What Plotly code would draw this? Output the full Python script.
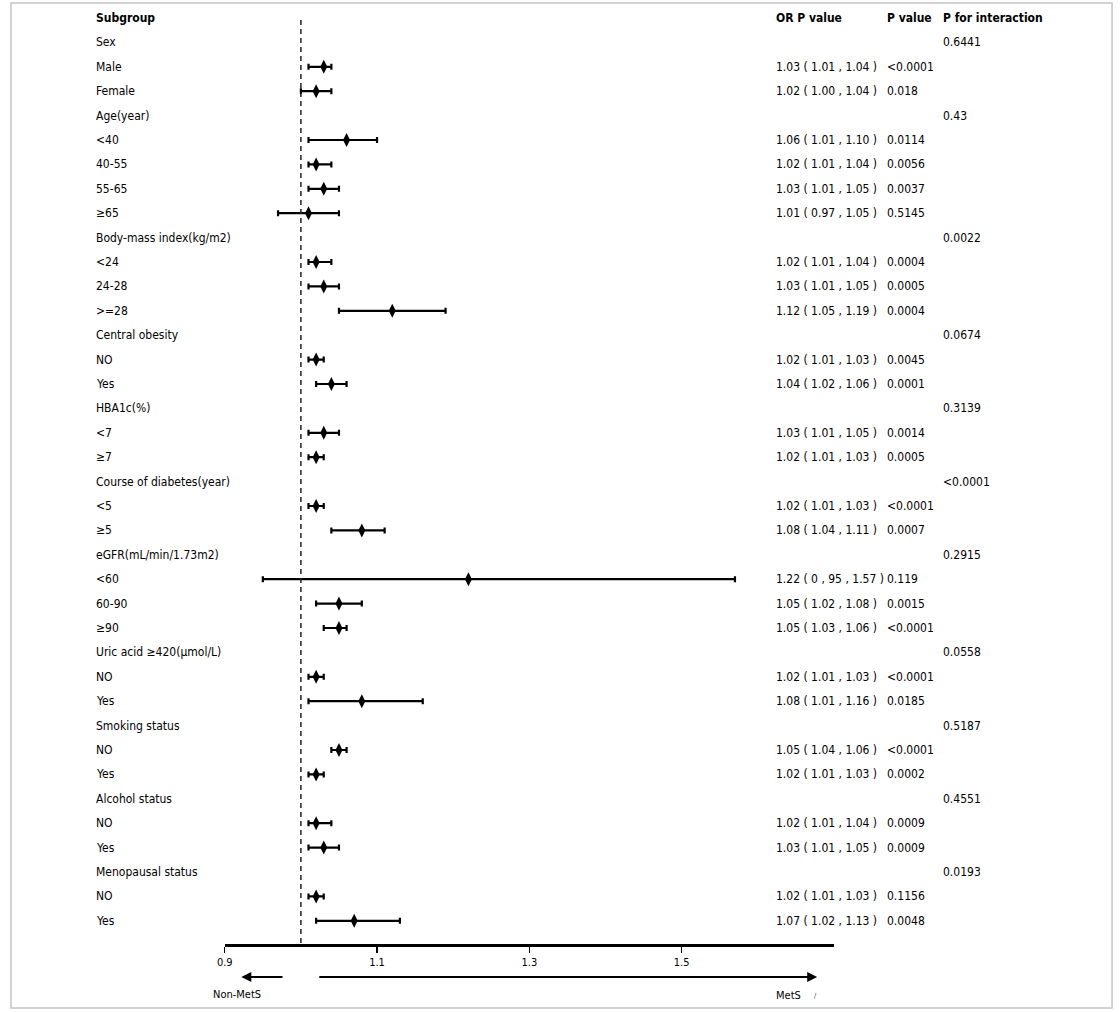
import plotly.graph_objects as go

# ---------------- data ----------------
subgroups = ["Sex", "Male", "Female", "Age(year)", "<40", "40-55", "55-65", "≥65",
             "Body-mass index(kg/m2)", "<24", "24-28", ">=28", "Central obesity", "NO", "Yes",
             "HBA1c(%)", "<7", "≥7", "Course of diabetes(year)", "<5", "≥5",
             "eGFR(mL/min/1.73m2)", "<60", "60-90", "≥90", "Uric acid ≥420(μmol/L)", "NO", "Yes",
             "Smoking status", "NO", "Yes", "Alcohol status", "NO", "Yes",
             "Menopausal status", "NO", "Yes"]

or_est = [None, 1.03, 1.02, None, 1.06, 1.02, 1.03, 1.01, None, 1.02, 1.03, 1.12, None, 1.02, 1.04,
          None, 1.03, 1.02, None, 1.02, 1.08, None, 1.22, 1.05, 1.05, None, 1.02, 1.08,
          None, 1.05, 1.02, None, 1.02, 1.03, None, 1.02, 1.07]
or_lo = [None, 1.01, 1.00, None, 1.01, 1.01, 1.01, 0.97, None, 1.01, 1.01, 1.05, None, 1.01, 1.02,
         None, 1.01, 1.01, None, 1.01, 1.04, None, 0.95, 1.02, 1.03, None, 1.01, 1.01,
         None, 1.04, 1.01, None, 1.01, 1.01, None, 1.01, 1.02]
or_hi = [None, 1.04, 1.04, None, 1.10, 1.04, 1.05, 1.05, None, 1.04, 1.05, 1.19, None, 1.03, 1.06,
         None, 1.05, 1.03, None, 1.03, 1.11, None, 1.57, 1.08, 1.06, None, 1.03, 1.16,
         None, 1.06, 1.03, None, 1.04, 1.05, None, 1.03, 1.13]
or_text = ["", "1.03 ( 1.01 , 1.04 )", "1.02 ( 1.00 , 1.04 )", "", "1.06 ( 1.01 , 1.10 )",
           "1.02 ( 1.01 , 1.04 )", "1.03 ( 1.01 , 1.05 )", "1.01 ( 0.97 , 1.05 )", "",
           "1.02 ( 1.01 , 1.04 )", "1.03 ( 1.01 , 1.05 )", "1.12 ( 1.05 , 1.19 )", "",
           "1.02 ( 1.01 , 1.03 )", "1.04 ( 1.02 , 1.06 )", "", "1.03 ( 1.01 , 1.05 )",
           "1.02 ( 1.01 , 1.03 )", "", "1.02 ( 1.01 , 1.03 )", "1.08 ( 1.04 , 1.11 )", "",
           "1.22 ( 0 , 95 , 1.57 )", "1.05 ( 1.02 , 1.08 )", "1.05 ( 1.03 , 1.06 )", "",
           "1.02 ( 1.01 , 1.03 )", "1.08 ( 1.01 , 1.16 )", "", "1.05 ( 1.04 , 1.06 )",
           "1.02 ( 1.01 , 1.03 )", "", "1.02 ( 1.01 , 1.04 )", "1.03 ( 1.01 , 1.05 )", "",
           "1.02 ( 1.01 , 1.03 )", "1.07 ( 1.02 , 1.13 )"]
p_value = ["", "<0.0001", "0.018", "", "0.0114", "0.0056", "0.0037", "0.5145", "",
           "0.0004", "0.0005", "0.0004", "", "0.0045", "0.0001", "", "0.0014", "0.0005", "",
           "<0.0001", "0.0007", "", "0.119", "0.0015", "<0.0001", "", "<0.0001", "0.0185", "",
           "<0.0001", "0.0002", "", "0.0009", "0.0009", "", "0.1156", "0.0048"]
p_interaction = ["0.6441", "", "", "0.43", "", "", "", "", "0.0022", "", "", "", "0.0674", "", "",
                 "0.3139", "", "", "<0.0001", "", "", "0.2915", "", "", "", "0.0558", "", "",
                 "0.5187", "", "", "0.4551", "", "", "0.0193", "", ""]
headers = ["Subgroup", "OR P value", "P value", "P for interaction"]
tick_vals = [0.9, 1.1, 1.3, 1.5]
tick_labels = ["0.9", "1.1", "1.3", "1.5"]
ref_value = 1.0
left_label, right_label = "Non-MetS", "MetS"

# ---------------- layout helpers ----------------
W, H = 1120, 1012
ROW0, ROWH = 18, 24.4            # pixel y of header row, row spacing
X0PIX, PX_PER_UNIT = 218.3, 767  # pixel of 0.9, pixels per OR unit
AX_END = 832
AX_Y = 945
FONT = "DejaVu Sans Condensed, DejaVu Sans, sans-serif"
TXT = 12


def row_of(py):
    return (py - ROW0) / ROWH


def val_of(px):
    return 0.9 + (px - X0PIX) / PX_PER_UNIT


rows = [i + 1 for i in range(len(subgroups))]
idx = [i for i, v in enumerate(or_est) if v is not None]
xs = [or_est[i] for i in idx]
ys = [rows[i] for i in idx]
err_plus = [or_hi[i] - or_est[i] for i in idx]
err_minus = [or_est[i] - or_lo[i] for i in idx]

fig = go.Figure()
fig.add_trace(go.Scatter(
    x=xs, y=ys, mode="markers",
    marker=dict(symbol="diamond-tall", size=10, color="black"),
    error_x=dict(type="data", symmetric=False, array=err_plus, arrayminus=err_minus,
                 color="black", thickness=2.2, width=3),
    showlegend=False, hoverinfo="skip",
))

ann = []
col_x = [87, 772, 883, 940]
for cx, h in zip(col_x, headers):
    ann.append(dict(x=cx / W, xref="paper", y=0, yref="y", text=f"<b>{h}</b>",
                    xanchor="left", yanchor="middle", showarrow=False,
                    font=dict(family=FONT, size=TXT, color="black")))
for r, lab, ot, pv, pi in zip(rows, subgroups, or_text, p_value, p_interaction):
    for cx, t in zip(col_x, [lab, ot, pv, pi]):
        if t:
            ann.append(dict(x=cx / W, xref="paper", y=r, yref="y", text=t,
                            xanchor="left", yanchor="middle", showarrow=False,
                            font=dict(family=FONT, size=TXT, color="black")))

# direction arrows
arrow_row = row_of(977)
ann.append(dict(x=val_of(235), y=arrow_row, xref="x", yref="y",
                ax=val_of(278), ay=arrow_row, axref="x", ayref="y", text="",
                showarrow=True, arrowhead=2, arrowsize=1, arrowwidth=2, arrowcolor="black"))
ann.append(dict(x=val_of(815), y=arrow_row, xref="x", yref="y",
                ax=val_of(312), ay=arrow_row, axref="x", ayref="y", text="",
                showarrow=True, arrowhead=2, arrowsize=1, arrowwidth=2, arrowcolor="black"))
ann.append(dict(x=231 / W, xref="paper", y=row_of(994), yref="y", text=left_label,
                xanchor="center", yanchor="middle", showarrow=False,
                font=dict(family=FONT, size=11, color="black")))
ann.append(dict(x=786 / W, xref="paper", y=row_of(995), yref="y", text=right_label,
                xanchor="center", yanchor="middle", showarrow=False,
                font=dict(family=FONT, size=11, color="black")))
ann.append(dict(x=813 / W, xref="paper", y=row_of(996), yref="y", text="/",
                xanchor="center", yanchor="middle", showarrow=False,
                font=dict(family=FONT, size=7, color="#333")))

shapes = [
    dict(type="line", xref="x", yref="y", x0=ref_value, x1=ref_value,
         y0=row_of(20), y1=row_of(AX_Y), line=dict(color="#222", width=1.5, dash="5px,4px")),
    dict(type="rect", xref="paper", yref="paper", x0=3 / W, x1=1112 / W,
         y0=1 - 1008 / H, y1=1 - 3 / H, line=dict(color="#c4c4c4", width=1.5)),
]

fig.update_layout(
    width=W, height=H, margin=dict(l=0, r=0, t=0, b=0),
    paper_bgcolor="white", plot_bgcolor="white",
    annotations=ann, shapes=shapes, showlegend=False,
    xaxis=dict(domain=[X0PIX / W, AX_END / W], range=[0.9, val_of(AX_END)],
               anchor="free", position=1 - AX_Y / H,
               showline=True, linewidth=2.8, linecolor="black",
               ticks="outside", ticklen=6, tickwidth=1.5, tickcolor="black",
               tickvals=tick_vals, ticktext=tick_labels,
               tickfont=dict(family=FONT, size=11, color="black"),
               showgrid=False, zeroline=False, fixedrange=True),
    yaxis=dict(domain=[0, 1], range=[row_of(H), row_of(0)], visible=False,
               showgrid=False, zeroline=False, fixedrange=True),
)

post = ("document.documentElement.style.margin='0';"
        "document.body.style.margin='0';document.body.style.padding='0';"
        "document.body.style.overflow='hidden';"
        "var d=document.getElementById('{plot_id}');"
        "d.style.position='absolute';d.style.left='0px';d.style.top='0px';")
fig.write_html("out.html", config={"displayModeBar": False, "staticPlot": True},
               post_script=post)
